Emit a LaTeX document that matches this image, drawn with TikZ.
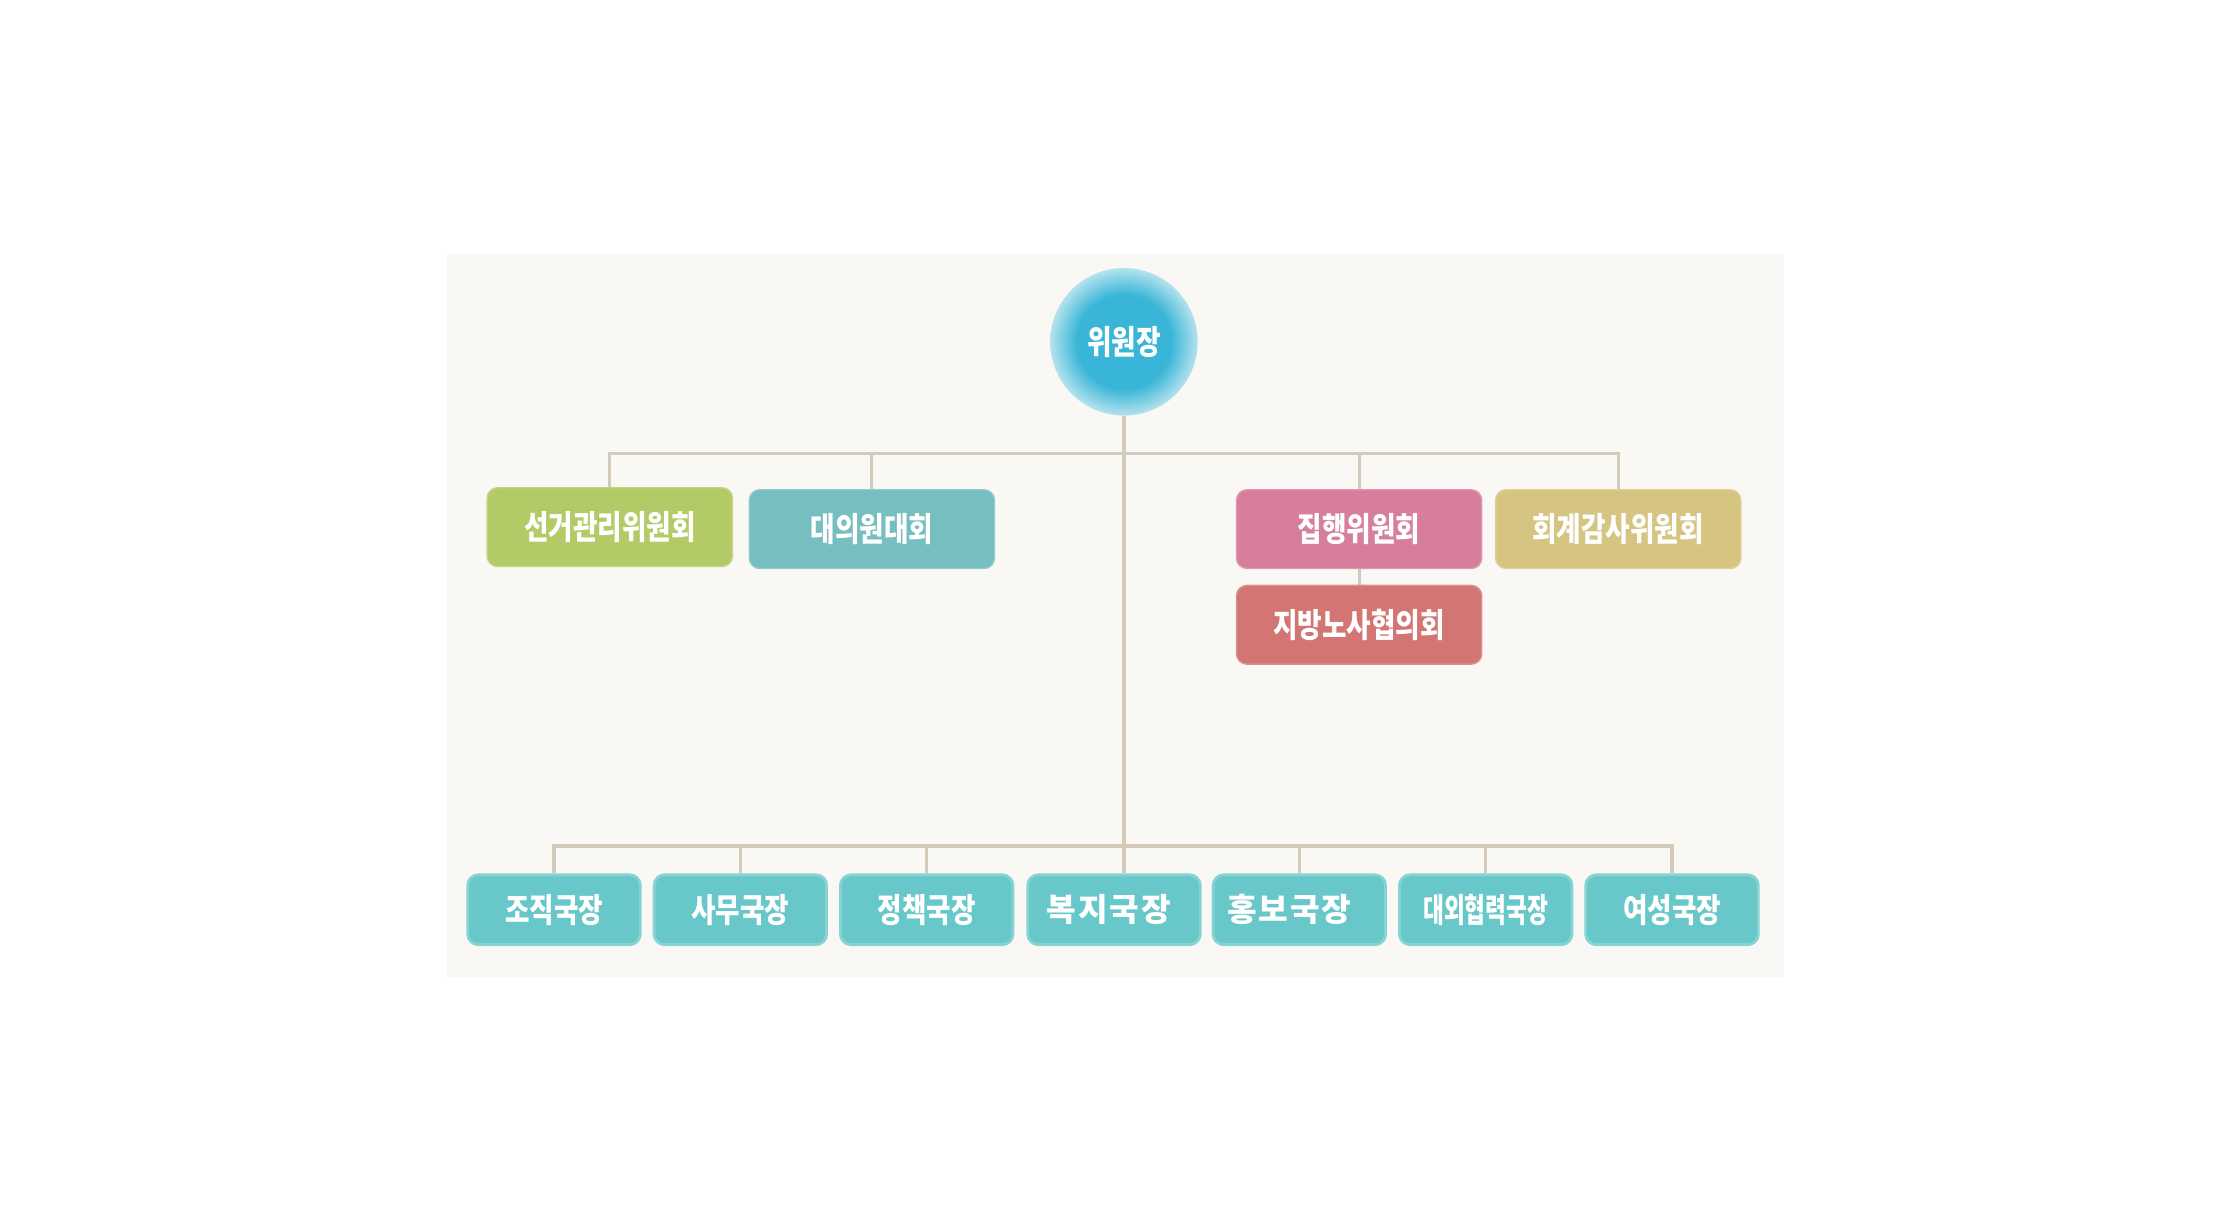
\documentclass[tikz,border=0pt]{standalone}
\usepackage{fontspec}
\newfontfamily\krfont{Noto Sans CJK KR}[FakeStretch=0.8]
\newfontfamily\krwide{Noto Sans CJK KR}[LetterSpace=6]
\newfontfamily\krnarrow{Noto Sans CJK KR}[FakeStretch=0.68]
\usepackage{tikz}
\usetikzlibrary{positioning}
\pgfdeclarelayer{background}
\pgfdeclarelayer{foreground}
\pgfsetlayers{background,main,foreground}
\definecolor{rootblue}{HTML}{39B6D7}
\definecolor{rootedge}{HTML}{B4E2EE}
\definecolor{selgreen}{HTML}{B3CB66}
\definecolor{daeteal}{HTML}{77BEC0}
\definecolor{jippink}{HTML}{D77E9D}
\definecolor{hoekhaki}{HTML}{D5C580}
\definecolor{jibred}{HTML}{D27573}
\definecolor{gukteal}{HTML}{68C8C9}
\definecolor{linktan}{HTML}{D3CAB9}
\definecolor{panelbg}{HTML}{F9F8F4}
\pgfdeclareradialshading{rootglow}{\pgfpoint{0bp}{0bp}}{color(0bp)=(rootblue); color(16bp)=(rootblue); color(25bp)=(rootedge); color(50bp)=(rootedge)}

\begin{document}
\begin{tikzpicture}[x=0.01cm,y=-0.01cm,
						rootnode/.style={circle, shading=rootglow, minimum size=1.48cm, inner sep=0pt, text=white, font=\krfont\bfseries\fontsize{9.5}{10}\selectfont},
						commnode/.style={rectangle, rounded corners=3pt, minimum width=2.46cm, minimum height=0.79cm, inner sep=0pt, text=white, font=\krfont\bfseries\fontsize{9.5}{10}\selectfont},
						guknode/.style={rectangle, rounded corners=3pt, fill=gukteal, draw=gukteal!80!white, line width=0.8pt, minimum width=1.73cm, minimum height=0.70cm, inner sep=0pt, text=white, font=\krfont\bfseries\fontsize{9.5}{10}\selectfont},
						link/.style={draw=linktan, line width=0.9pt},
						]
						\useasboundingbox (0,0) rectangle (2238,1214);
						%Nodes
						\node[rootnode]      (root) 	at 	(1128,343)     {위원장};
						\node[commnode, fill=selgreen, draw=selgreen!80!white]     (sel) 	at 	(612,529)      {선거관리위원회};
						\node[commnode, fill=daeteal, draw=daeteal!80!white]      (dae) 	at 	(875,531)      {대의원대회};
						\node[commnode, fill=jippink, draw=jippink!80!white]      (jip) 	at 	(1364,531)     {집행위원회};
						\node[commnode, fill=hoekhaki, draw=hoekhaki!80!white]     (hoe) 	at 	(1624,531)     {회계감사위원회};
						\node[commnode, fill=jibred, draw=jibred!80!white]       (jib) 	at 	(1364,627)     {지방노사협의회};
						\node[guknode]       (jo)  	at 	(556,913)      {조직국장};
						\node[guknode]       (sa)  	at 	(743,913)      {사무국장};
						\node[guknode]       (jeong) 	at 	(930,913)      {정책국장};
						\node[guknode, font=\krwide\bfseries\fontsize{9.2}{10}\selectfont]       (bok) 	at 	(1118,913)     {복지국장\kern0.1cm};
						\node[guknode, font=\krwide\bfseries\fontsize{9.2}{10}\selectfont]       (hong) 	at 	(1304,913)     {홍보국장\kern0.2cm};
						\node[guknode, font=\krnarrow\bfseries\fontsize{9.5}{10}\selectfont]       (dae2) 	at 	(1491,913)     {대외협력국장};
						\node[guknode]       (yeo) 	at 	(1678,913)     {여성국장};
						\coordinate (bus1) at (1128,455);
						\coordinate (bus2) at (1128,849);

						\begin{pgfonlayer}{background}
						\fill[panelbg] (449,255) rectangle (1790,980);
						%Lines
						\draw[link] (root.south) -- (root.south |- bok.north);
						\draw[link] (sel.north) |- (bus1 -| hoe.north) -- (hoe.north);
						\draw[link] (dae.north) -- (dae.north |- bus1);
						\draw[link] (jip.north) -- (jip.north |- bus1);
						\draw[link] (jip.south) -- (jib.north);

						\draw[link] (jo.north) |- (bus2 -| yeo.north) -- (yeo.north);
						\draw[link] (sa.north) -- (sa.north |- bus2);
						\draw[link] (jeong.north) -- (jeong.north |- bus2);
						\draw[link] (hong.north) -- (hong.north |- bus2);
						\draw[link] (dae2.north) -- (dae2.north |- bus2);
						\end{pgfonlayer}
					\end{tikzpicture}
\end{document}
